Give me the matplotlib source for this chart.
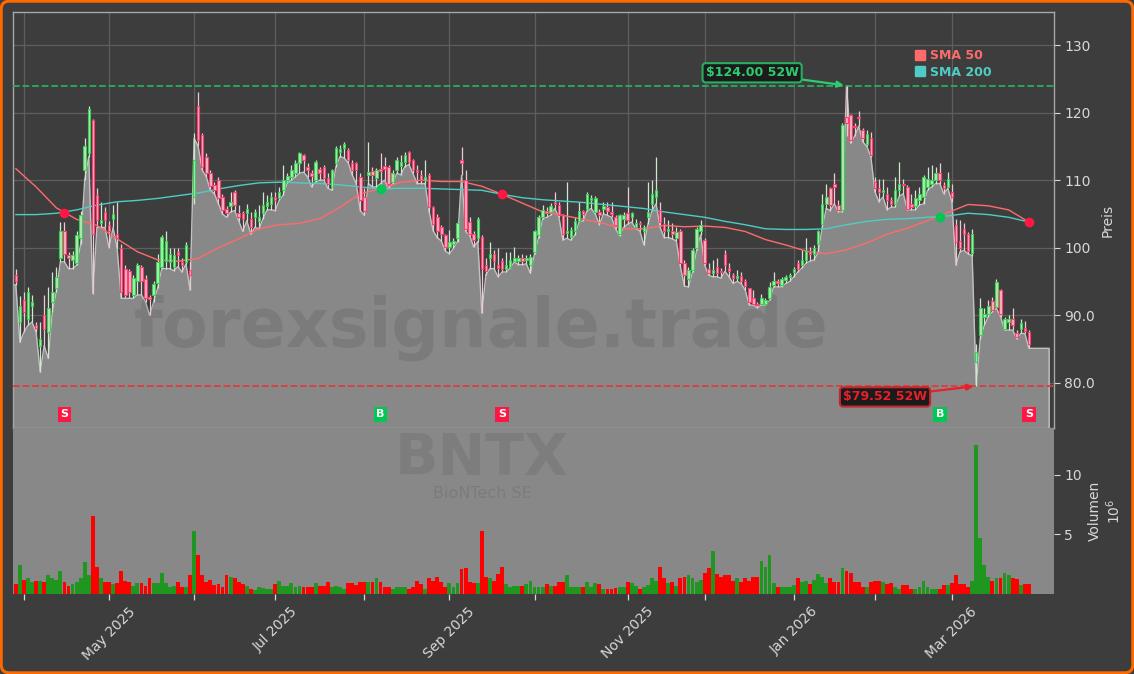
import numpy as np
import matplotlib
matplotlib.use("Agg")
import matplotlib.pyplot as plt
from matplotlib.lines import Line2D
from matplotlib.patches import FancyBboxPatch

# ---------------- data (trading-day index 0 = 28 Mar 2025) ----------------
opens = [95.9, 89.0, 92.2, 89.5, 91.3, 88.5, 85.5, 90.0, 87.5, 92.0,
         94.0, 98.5, 102.4, 98.9, 98.2, 97.7, 101.4, 111.5, 114.0, 118.9,
         107.8, 103.7, 105.3, 103.3, 104.3, 102.0, 100.0, 96.9, 96.5, 93.0,
         95.0, 97.2, 95.4, 92.7, 93.0, 94.7, 97.2, 98.0, 97.9, 97.2,
         99.4, 97.9, 97.9, 96.7, 107.5, 121.0, 116.7, 113.5, 111.0, 109.3,
         110.0, 107.5, 105.8, 106.1, 108.3, 105.1, 105.1, 105.2, 104.3, 104.6,
         104.0, 105.1, 106.1, 106.5, 107.5, 107.4, 108.5, 110.0, 110.5, 111.0,
         112.5, 113.7, 112.0, 111.1, 110.0, 111.6, 112.0, 110.3, 109.0, 112.5,
         114.2, 114.7, 114.5, 112.5, 112.5, 110.5, 107.5, 110.8, 111.3, 110.3,
         111.7, 112.1, 112.0, 109.7, 111.5, 112.1, 112.7, 114.1, 113.0, 111.5,
         110.8, 110.0, 110.7, 106.0, 104.5, 103.0, 101.9, 100.1, 100.5, 101.4,
         113.0, 110.0, 103.8, 102.0, 101.4, 101.6, 97.4, 98.4, 99.1, 97.5,
         98.0, 96.8, 97.2, 98.0, 98.0, 98.5, 98.2, 97.4, 99.4, 101.9,
         104.6, 105.5, 105.3, 106.7, 106.3, 104.8, 102.2, 101.6, 102.5, 104.0,
         105.5, 105.8, 107.0, 105.3, 105.3, 105.8, 106.0, 105.3, 104.6, 102.1,
         104.3, 105.1, 104.6, 103.1, 103.7, 102.4, 104.6, 106.5, 107.5, 105.6,
         103.5, 102.5, 102.5, 101.5, 102.4, 97.7, 95.4, 96.7, 99.9, 102.4,
         101.1, 96.9, 96.2, 97.2, 96.5, 99.1, 97.0, 96.0, 95.5, 95.8,
         95.0, 94.0, 92.5, 91.7, 91.7, 91.7, 92.5, 94.5, 95.0, 94.5,
         95.2, 95.6, 96.4, 97.7, 97.4, 98.2, 99.5, 99.0, 100.5, 103.5,
         106.5, 108.8, 109.4, 106.3, 105.6, 119.4, 119.6, 118.0, 119.4, 117.4,
         115.4, 116.2, 109.8, 108.8, 108.3, 108.0, 107.0, 106.5, 108.5, 109.5,
         109.0, 106.4, 106.1, 107.0, 107.5, 109.0, 109.5, 110.0, 111.0, 109.3,
         109.0, 108.3, 103.3, 101.0, 102.8, 102.0, 99.2, 83.0, 87.0, 89.7,
         90.2, 92.1, 91.2, 93.7, 88.0, 89.0, 89.5, 87.3, 88.0, 88.1, 87.5]

highs = [96.9, 92.8, 93.5, 94.2, 93.0, 89.0, 89.0, 93.0, 94.2, 96.4,
         97.2, 103.8, 103.8, 99.4, 99.5, 102.4, 105.5, 116.2, 121.0, 119.0,
         108.8, 106.8, 106.0, 104.0, 106.3, 106.8, 100.5, 97.5, 96.9, 96.0,
         97.7, 97.5, 95.9, 93.0, 95.0, 99.1, 101.9, 102.4, 100.0, 99.9,
         100.0, 98.4, 100.9, 97.9, 117.0, 123.0, 117.0, 114.0, 111.5, 109.8,
         110.5, 108.0, 106.2, 108.3, 108.6, 106.3, 105.5, 106.5, 105.3, 105.8,
         106.3, 108.3, 107.8, 108.3, 108.3, 109.0, 112.2, 111.0, 112.2, 113.0,
         114.2, 113.8, 112.5, 111.5, 113.0, 112.0, 112.2, 111.0, 111.7, 115.0,
         115.2, 115.7, 114.7, 113.0, 112.7, 111.0, 108.8, 115.7, 112.0, 111.8,
         114.0, 113.5, 112.2, 111.5, 113.5, 113.7, 114.2, 114.3, 113.2, 112.2,
         111.5, 113.0, 111.0, 106.2, 105.0, 103.3, 102.1, 102.6, 101.4, 103.8,
         114.9, 111.5, 104.6, 102.4, 104.6, 101.9, 98.4, 100.9, 99.6, 99.9,
         98.4, 99.4, 99.4, 100.1, 98.9, 99.0, 98.9, 99.1, 102.6, 104.8,
         106.3, 106.0, 106.6, 108.2, 106.8, 105.0, 109.8, 103.1, 104.6, 106.8,
         105.6, 108.3, 107.8, 107.6, 105.8, 106.8, 106.8, 106.8, 104.8, 105.0,
         105.3, 109.0, 105.3, 104.3, 104.0, 103.3, 109.8, 110.0, 113.5, 106.8,
         104.5, 104.1, 103.6, 103.1, 102.8, 98.2, 97.2, 99.9, 103.1, 104.1,
         101.4, 97.7, 98.2, 98.4, 97.0, 99.6, 97.7, 96.2, 96.7, 96.4,
         95.4, 94.0, 93.7, 92.0, 93.2, 92.5, 94.9, 96.4, 95.4, 95.7,
         96.0, 96.2, 97.2, 98.2, 99.6, 101.4, 100.1, 100.4, 102.6, 108.0,
         109.5, 109.0, 111.0, 107.0, 118.5, 124.0, 119.8, 118.5, 120.2, 117.7,
         117.4, 117.2, 110.5, 110.2, 110.2, 109.0, 107.5, 110.5, 112.7, 110.2,
         109.3, 108.0, 108.5, 109.0, 110.7, 112.0, 112.2, 112.0, 112.5, 109.8,
         111.2, 109.5, 104.3, 104.1, 103.6, 102.3, 102.8, 85.8, 92.5, 91.0,
         92.2, 92.7, 95.3, 93.9, 89.7, 90.0, 91.0, 87.8, 89.4, 89.2, 87.8]

lows = [94.5, 86.0, 87.5, 88.5, 89.0, 87.5, 81.6, 85.5, 83.6, 90.5,
        93.5, 97.9, 97.9, 96.9, 96.9, 97.4, 100.5, 110.0, 113.5, 93.2,
        103.0, 103.0, 103.0, 100.0, 103.0, 99.9, 92.5, 92.5, 92.5, 92.5,
        93.0, 93.0, 92.0, 90.0, 92.0, 94.0, 96.9, 96.9, 96.9, 96.6,
        97.2, 96.4, 97.6, 93.7, 106.5, 115.0, 111.5, 110.5, 108.5, 108.0,
        106.5, 105.0, 104.5, 105.3, 105.5, 104.0, 102.4, 104.0, 102.0, 103.0,
        102.8, 104.3, 105.6, 105.6, 105.5, 107.0, 107.8, 109.6, 110.0, 110.5,
        111.0, 111.2, 110.5, 109.0, 109.8, 110.0, 110.0, 108.8, 108.5, 112.0,
        113.5, 113.3, 112.6, 110.8, 109.5, 105.5, 104.8, 109.5, 109.0, 109.0,
        109.5, 110.0, 108.8, 109.5, 111.0, 110.8, 112.0, 112.3, 111.0, 109.5,
        109.5, 109.5, 105.3, 102.5, 101.5, 101.0, 99.5, 99.1, 99.9, 100.9,
        110.7, 102.4, 101.8, 100.1, 100.9, 90.3, 96.0, 96.9, 96.9, 95.7,
        96.4, 96.4, 97.0, 97.9, 97.5, 97.5, 97.6, 96.2, 99.1, 101.5,
        104.3, 104.5, 104.8, 105.8, 104.6, 101.1, 101.4, 101.1, 101.9, 103.8,
        104.0, 105.5, 105.8, 105.0, 103.4, 105.0, 104.8, 104.5, 102.8, 101.8,
        103.0, 103.5, 103.8, 102.8, 102.5, 100.4, 103.5, 105.5, 106.5, 103.0,
        101.5, 101.5, 101.3, 101.0, 97.2, 94.3, 94.2, 96.4, 99.6, 101.9,
        97.4, 95.9, 95.7, 95.7, 95.5, 96.5, 95.7, 94.7, 95.0, 94.7,
        93.7, 91.5, 91.5, 91.1, 91.5, 91.5, 92.2, 94.2, 94.2, 94.2,
        94.7, 95.0, 95.7, 96.4, 97.0, 97.7, 98.0, 98.2, 99.3, 103.0,
        105.8, 105.5, 106.5, 105.3, 105.3, 116.5, 115.5, 116.5, 118.0, 115.7,
        115.0, 113.5, 108.3, 106.8, 107.5, 105.6, 106.0, 106.0, 107.6, 108.0,
        105.6, 105.6, 105.6, 106.3, 106.5, 108.5, 109.0, 109.5, 109.5, 108.0,
        108.8, 106.8, 97.4, 99.4, 99.6, 99.1, 98.8, 79.52, 86.5, 88.5,
        89.8, 90.5, 91.0, 89.8, 87.8, 87.8, 87.8, 86.5, 87.3, 87.3, 85.1]

closes = [95.0, 91.3, 90.5, 93.5, 92.0, 88.1, 86.5, 88.0, 91.0, 93.5,
          95.7, 102.4, 99.1, 98.4, 98.9, 101.9, 104.8, 115.0, 120.6, 102.1,
          104.1, 104.1, 104.1, 102.4, 105.0, 101.5, 93.5, 93.0, 93.5, 95.5,
          97.4, 95.0, 92.5, 92.4, 94.6, 97.9, 101.6, 101.0, 99.1, 98.9,
          98.9, 97.4, 100.4, 95.9, 113.0, 116.0, 112.0, 111.0, 109.2, 108.5,
          107.3, 105.6, 105.1, 106.8, 106.3, 104.6, 104.3, 105.8, 103.1, 105.3,
          104.5, 106.3, 106.8, 107.5, 107.0, 108.3, 110.0, 110.6, 111.5, 112.5,
          114.0, 113.0, 111.5, 110.6, 112.7, 111.1, 110.3, 109.5, 111.5, 114.7,
          114.6, 115.4, 113.0, 111.5, 111.5, 107.0, 105.5, 111.2, 110.8, 111.5,
          111.3, 111.7, 109.5, 111.1, 113.0, 112.7, 113.7, 112.7, 111.5, 111.2,
          110.0, 110.5, 106.0, 103.5, 102.5, 102.0, 100.1, 100.9, 101.0, 103.6,
          112.5, 102.8, 102.1, 101.1, 104.3, 96.9, 96.5, 99.1, 98.1, 97.0,
          96.8, 97.5, 98.2, 98.5, 98.5, 98.1, 98.4, 98.6, 102.4, 104.6,
          105.6, 105.2, 106.1, 106.4, 104.8, 102.1, 102.4, 102.6, 104.0, 105.5,
          105.0, 108.0, 107.4, 107.3, 104.8, 106.1, 105.5, 105.0, 103.3, 104.8,
          104.8, 104.1, 105.1, 103.6, 103.5, 103.1, 105.3, 108.0, 108.5, 103.8,
          102.5, 102.8, 102.0, 102.3, 97.7, 95.9, 96.7, 99.6, 102.8, 103.3,
          97.7, 96.2, 96.7, 96.2, 96.4, 97.4, 96.5, 95.5, 95.8, 95.0,
          94.3, 92.0, 91.7, 91.5, 92.5, 92.3, 94.2, 95.0, 94.7, 95.4,
          95.7, 95.9, 96.9, 96.9, 98.2, 99.5, 99.0, 100.0, 102.4, 106.5,
          107.5, 106.3, 109.0, 105.6, 118.2, 118.5, 116.0, 117.8, 119.2, 116.2,
          116.9, 113.7, 108.8, 108.3, 108.6, 107.0, 106.5, 108.5, 109.5, 109.3,
          105.8, 106.0, 107.3, 108.0, 110.5, 110.2, 110.0, 111.0, 110.0, 108.8,
          110.2, 107.5, 100.9, 100.0, 102.1, 99.5, 102.0, 84.5, 91.0, 90.2,
          91.3, 90.7, 94.9, 90.2, 89.5, 89.5, 88.5, 86.8, 88.9, 87.6, 85.8]

volumes = [0.8, 2.4, 1.2, 1.3, 1.0, 1.1, 1.1, 1.0, 1.6, 1.3,
           1.2, 1.9, 1.0, 0.7, 0.8, 1.0, 1.3, 2.7, 1.6, 6.5,
           2.3, 1.3, 1.0, 1.0, 0.8, 0.9, 1.9, 1.1, 1.0, 0.7,
           0.9, 0.9, 0.7, 1.3, 0.9, 0.9, 1.8, 0.9, 0.6, 0.7,
           1.0, 0.6, 0.6, 1.6, 5.3, 3.3, 1.6, 1.0, 1.2, 0.75,
           0.8, 0.6, 1.6, 1.45, 1.3, 1.0, 0.8, 0.7, 0.45, 0.3,
           0.6, 0.5, 0.45, 0.45, 0.8, 1.1, 0.7, 0.7, 0.9, 0.6,
           0.7, 0.6, 0.6, 0.6, 0.9, 0.7, 0.7, 1.0, 0.6, 0.7,
           0.6, 0.45, 0.9, 0.9, 0.75, 1.0, 1.0, 1.0, 1.0, 1.3,
           1.0, 0.6, 0.6, 0.45, 0.6, 0.6, 0.55, 0.45, 0.6, 1.1,
           0.8, 0.45, 1.3, 1.1, 1.4, 1.0, 0.6, 0.9, 0.6, 0.9,
           2.1, 2.2, 1.0, 0.9, 0.9, 5.25, 1.4, 1.3, 1.1, 1.7,
           2.3, 0.8, 0.6, 0.7, 0.7, 0.7, 0.8, 1.1, 0.6, 0.6,
           0.55, 0.8, 0.7, 0.7, 1.0, 1.0, 1.6, 0.6, 0.6, 0.6,
           0.6, 1.0, 0.6, 0.9, 0.8, 0.45, 0.45, 0.45, 0.5, 0.6,
           0.6, 1.0, 0.9, 0.7, 0.45, 0.6, 0.75, 1.3, 1.1, 2.3,
           1.3, 0.9, 1.0, 0.7, 1.3, 1.4, 1.6, 1.3, 1.0, 1.2,
           1.8, 2.2, 3.6, 1.7, 1.4, 1.6, 1.6, 1.1, 1.3, 1.0,
           1.3, 1.1, 1.4, 1.4, 2.8, 2.3, 3.3, 0.9, 0.6, 0.55,
           0.55, 0.55, 0.75, 1.3, 1.0, 1.1, 0.8, 1.2, 1.7, 1.4,
           0.9, 1.3, 1.0, 1.0, 2.2, 1.9, 1.75, 1.0, 1.0, 0.6,
           0.6, 1.0, 1.1, 1.1, 1.0, 0.8, 0.9, 0.6, 0.45, 0.75,
           0.75, 0.45, 0.45, 0.6, 1.1, 0.6, 0.45, 0.4, 0.45, 0.75,
           0.75, 0.9, 1.6, 0.8, 0.8, 0.6, 1.1, 12.5, 4.67, 2.45,
           1.4, 1.1, 1.3, 1.3, 1.75, 1.6, 1.3, 1.25, 0.75, 0.8, 0.8]

# moving averages read every 5 trading days
sma_idx = list(range(0, 251, 5))
sma50 = [111.7, 109.0, 105.9, 104.2, 103.3, 101.3, 99.4, 98.2, 98.0, 98.4,
         100.0, 101.3, 102.8, 103.4, 103.6, 104.3, 106.0, 108.0, 108.7, 109.7,
         110.0, 109.8, 109.8, 109.1, 107.9, 106.6, 105.3, 104.8, 104.2, 103.6,
         102.8, 102.8, 103.3, 103.1, 103.2, 103.0, 102.4, 101.2, 100.4, 99.5,
         99.1, 99.7, 100.7, 102.0, 102.9, 104.0, 105.2, 106.4, 106.2, 105.6, 103.8]
sma200 = [104.9, 104.9, 105.1, 105.6, 106.3, 106.8, 107.0, 107.3, 107.7, 108.1,
          108.7, 109.2, 109.6, 109.7, 109.6, 109.5, 109.3, 109.0, 108.7, 108.8,
          108.8, 108.7, 108.6, 108.5, 107.9, 107.4, 107.1, 106.9, 106.7, 106.4,
          106.1, 105.8, 105.3, 104.9, 104.5, 103.9, 103.4, 102.8, 102.7, 102.7,
          102.8, 103.4, 103.9, 104.2, 104.3, 104.5, 104.7, 105.1, 104.9, 104.5, 103.8]

# area outline: lows, with the two spikes where the outline touches the top
area_peaks = {44: 116.2, 205: 124.0}
area_extend = 5          # outline continues flat for 5 days after the last bar

month_idx = [2, 23, 44, 64, 86, 107, 128, 151, 170, 192, 212, 231]
month_labels = ["", "May 2025", "", "Jul 2025", "", "Sep 2025", "",
                "Nov 2025", "", "Jan 2026", "", "Mar 2026"]

signal_idx = [12, 90, 120, 228, 250]
signal_type = ["S", "B", "S", "B", "S"]
cross_price = [105.2, 108.7, 107.9, 104.6, 103.8]

high_52w, high_52w_idx = 124.00, 205
low_52w, low_52w_idx = 79.52, 237

price_ticks = [80, 90, 100, 110, 120, 130]
price_tick_labels = ["80.0", "90.0", "100", "110", "120", "130"]
vol_ticks = [5, 10]

# ---------------- styling ----------------
BG = "#3d3d3d"
AREA = "#888888"
TXT = "#d8d8d8"
UP_FACE, UP_EDGE, UP_WICK = "#b3e6b3", "#3ccf55", "#cde8cd"
DN_FACE, DN_EDGE, DN_WICK = "#f5b3c2", "#ff3d6e", "#eec9d1"
C50, C200 = "#ff6b6b", "#4ecdc4"
GREEN_SIG, RED_SIG = "#00c853", "#ff1744"

W, H = 1134, 674
fig = plt.figure(figsize=(W / 100, H / 100), dpi=100, facecolor=BG)
ax = fig.add_axes([13 / W, 1 - 428 / H, 1041 / W, 416 / H])
axv = fig.add_axes([13 / W, 1 - 594 / H, 1041 / W, 166 / H])

n = len(closes)
x = np.arange(n)
o = np.array(opens); c = np.array(closes)
hi = np.array(highs); lo = np.array(lows)
up = c >= o

xlim = (-0.7, 256.2)
ylim = (73.3, 134.9)

# ---- price panel ----
ax.set_facecolor(BG)
ax.set_xlim(*xlim)
ax.set_ylim(*ylim)
ax.set_axisbelow(True)

area_y = lo.copy()
for k, v in area_peaks.items():
    area_y[k] = v
ax_x = np.concatenate([[xlim[0]], x, [x[-1] + area_extend]])
ax_y = np.concatenate([[area_y[0]], area_y, [area_y[-1]]])
ax.fill_between(ax_x, ax_y, ylim[0] - 5, color=AREA, lw=0, zorder=1)
ax.plot(np.append(ax_x, ax_x[-1]), np.append(ax_y, ylim[0] - 5),
        color="#c2c2c2", lw=1.0, zorder=2)

ax.text(0.4496, 0.24, "forexsignale.trade", transform=ax.transAxes,
        ha="center", va="center", fontsize=48, fontweight="bold",
        color="black", alpha=0.09, zorder=2.5)

# candles
ax.vlines(x, lo, hi, colors=[UP_WICK if u else DN_WICK for u in up],
          lw=0.9, zorder=4)
body_bottom = np.minimum(o, c)
body_h = np.maximum(np.abs(c - o), 0.15)
ax.bar(x, body_h, bottom=body_bottom, width=0.62,
       color=[UP_FACE if u else DN_FACE for u in up],
       edgecolor=[UP_EDGE if u else DN_EDGE for u in up], linewidth=0.8,
       zorder=5)

# moving averages
ax.plot(sma_idx, sma50, color=C50, lw=1.0, zorder=4.5)
ax.plot(sma_idx, sma200, color=C200, lw=1.0, zorder=4.5)

# 52-week lines
ax.axhline(high_52w, color="#27ae60", ls="--", lw=1.3, zorder=3)
ax.axhline(low_52w, color="#e03c3c", ls="--", lw=1.3, zorder=3)

ax.annotate("\\$%.2f 52W" % high_52w, xy=(high_52w_idx, high_52w),
            xytext=(181.7, 125.9), ha="center", va="center",
            color="#2ecc71", fontsize=9, fontweight="bold",
            bbox=dict(boxstyle="round,pad=0.25", fc="#1b1b1b", ec="#27ae60", lw=1.5),
            arrowprops=dict(arrowstyle="-|>", color="#2ecc71", lw=1.6,
                            shrinkA=0, shrinkB=2), zorder=8)
ax.annotate("\\$%.2f 52W" % low_52w, xy=(low_52w_idx, low_52w),
            xytext=(214.5, 77.9), ha="center", va="center",
            color="#e8202a", fontsize=9, fontweight="bold",
            bbox=dict(boxstyle="round,pad=0.25", fc="#1b1b1b", ec="#c0282d", lw=1.5),
            arrowprops=dict(arrowstyle="-|>", color="#e8202a", lw=1.6,
                            shrinkA=0, shrinkB=2), zorder=8)

# crossover dots and signal badges
for i, t, p in zip(signal_idx, signal_type, cross_price):
    col = GREEN_SIG if t == "B" else RED_SIG
    ax.plot(i, p, "o", color=col, ms=6, zorder=7)
    ax.text(i, 75.3, t, ha="center", va="center", color="white",
            fontsize=8, fontweight="bold", zorder=8,
            bbox=dict(boxstyle="square,pad=0.25", fc=col, ec="none"))

# legend
handles = [Line2D([0], [0], marker="s", ls="none", mfc=C50, mec=C50, ms=7),
           Line2D([0], [0], marker="s", ls="none", mfc=C200, mec=C200, ms=7)]
leg = ax.legend(handles, ["SMA 50", "SMA 200"], loc="upper right",
                bbox_to_anchor=(0.945, 0.922), frameon=False,
                handlelength=0.8, handletextpad=0.4, labelspacing=0.25,
                borderaxespad=0, prop=dict(size=9, weight="bold"))
for txt, col in zip(leg.get_texts(), [C50, C200]):
    txt.set_color(col)

# axes styling
ax.set_xticks(month_idx)
ax.tick_params(axis="x", length=0, labelbottom=False)
ax.yaxis.tick_right()
ax.yaxis.set_label_position("right")
ax.set_yticks(price_ticks)
ax.set_yticklabels(price_tick_labels)
ax.tick_params(axis="y", colors=TXT, labelsize=10, length=4, width=0.8)
ax.set_ylabel("Preis", color=TXT, fontsize=10, labelpad=4)
ax.grid(True, color="#5e5e5e", lw=0.9)
for s in ax.spines.values():
    s.set_color("#a8a8a8")
    s.set_linewidth(1.0)

# ---- volume panel ----
axv.set_facecolor(AREA)
axv.set_xlim(*xlim)
axv.set_ylim(0, 13.9)
axv.bar(x, volumes, width=0.95,
        color=["#1f961f" if u else "#ff0000" for u in up], lw=0, zorder=3)
axv.text(0.4505, 0.81, "BNTX", transform=axv.transAxes, ha="center",
         va="center", fontsize=41, fontweight="bold", color="black",
         alpha=0.08, zorder=2)
axv.text(0.4505, 0.605, "BioNTech SE", transform=axv.transAxes, ha="center",
         va="center", fontsize=11.5, color="black", alpha=0.09, zorder=2)
axv.set_xticks(month_idx)
axv.set_xticklabels(month_labels, rotation=45, ha="center")
axv.tick_params(axis="x", colors=TXT, labelsize=10, length=4, width=0.9)
axv.yaxis.tick_right()
axv.yaxis.set_label_position("right")
axv.set_yticks(vol_ticks)
axv.set_yticklabels([str(v) for v in vol_ticks])
axv.tick_params(axis="y", colors=TXT, labelsize=10, length=4, width=0.8)
axv.set_ylabel("Volumen\n$10^{6}$", color=TXT, fontsize=10, labelpad=4)
for s in axv.spines.values():
    s.set_visible(False)

# orange frame
frame = FancyBboxPatch((0.012, 0.012), W / 100 - 0.024, H / 100 - 0.024,
                       boxstyle="round,pad=0,rounding_size=0.08",
                       transform=fig.dpi_scale_trans, fc="none",
                       ec="#ff6a00", lw=2.2, zorder=10)
fig.patches.append(frame)

fig.savefig("out.png", dpi=100, facecolor=BG)
